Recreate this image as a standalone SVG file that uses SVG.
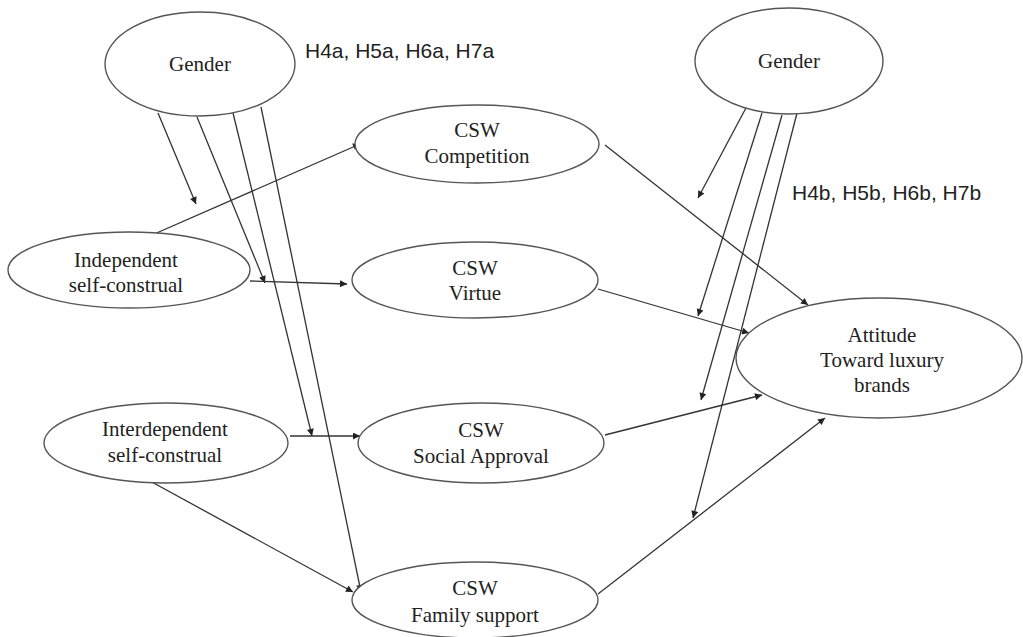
<svg xmlns="http://www.w3.org/2000/svg" width="1023" height="637" viewBox="0 0 1023 637">
<defs>
<style>
.node ellipse{fill:#fff;stroke:#555;stroke-width:1.4}
.node text{font-family:"Liberation Serif","Times New Roman",serif;font-size:21px;fill:#222;text-anchor:middle}
.lbl{font-family:"Liberation Sans",Arial,sans-serif;font-size:21px;fill:#222}
#connectors line{stroke:#333;stroke-width:1.3;fill:none;marker-end:url(#ah)}
</style>
<marker id="ah" viewBox="0 0 10 10" refX="10" refY="5" markerWidth="9" markerHeight="7" markerUnits="userSpaceOnUse" orient="auto">
<path d="M0,0 L10,5 L0,10 z" fill="#222"/>
</marker>
</defs>
<rect width="1023" height="637" fill="#fff"/>
<g id="connectors">
<line x1="158" y1="113" x2="196" y2="204"/>
<line x1="197" y1="117" x2="265" y2="283"/>
<line x1="233" y1="113" x2="312" y2="436"/>
<line x1="261" y1="107" x2="361" y2="592"/>
<line x1="152" y1="235" x2="360" y2="144"/>
<line x1="250" y1="281" x2="347" y2="284"/>
<line x1="290" y1="436" x2="360" y2="436"/>
<line x1="150" y1="481" x2="353" y2="592"/>
<line x1="605" y1="145" x2="808" y2="305"/>
<line x1="598" y1="289" x2="749" y2="333"/>
<line x1="605" y1="435" x2="762" y2="395"/>
<line x1="598" y1="594" x2="825" y2="418"/>
<line x1="747" y1="106" x2="698" y2="198"/>
<line x1="762" y1="113" x2="698" y2="316"/>
<line x1="782" y1="115" x2="701" y2="400"/>
<line x1="797" y1="113" x2="693" y2="518"/>
</g>
<g id="gender-a" class="node"><ellipse cx="200" cy="64" rx="95" ry="52"/><text x="200" y="71">Gender</text></g>
<g id="gender-b" class="node"><ellipse cx="789" cy="61" rx="94" ry="53"/><text x="789" y="68">Gender</text></g>
<g id="competition" class="node"><ellipse cx="477" cy="144" rx="122" ry="39"/><text x="477" y="137">CSW</text><text x="477" y="163">Competition</text></g>
<g id="independent" class="node"><ellipse cx="129" cy="270" rx="121" ry="38"/><text x="126" y="267">Independent</text><text x="126" y="292">self-construal</text></g>
<g id="virtue" class="node"><ellipse cx="475" cy="280" rx="123" ry="38"/><text x="475" y="275">CSW</text><text x="475" y="300">Virtue</text></g>
<g id="interdependent" class="node"><ellipse cx="166" cy="443" rx="122" ry="40"/><text x="165" y="436">Interdependent</text><text x="165" y="462">self-construal</text></g>
<g id="social" class="node"><ellipse cx="481" cy="443" rx="123" ry="40"/><text x="481" y="437">CSW</text><text x="481" y="463">Social Approval</text></g>
<g id="family" class="node"><ellipse cx="475" cy="600" rx="123" ry="38"/><text x="475" y="595">CSW</text><text x="475" y="622">Family support</text></g>
<g id="attitude" class="node"><ellipse cx="879" cy="358" rx="143" ry="60"/><text x="882" y="342">Attitude</text><text x="882" y="367">Toward luxury</text><text x="882" y="392">brands</text></g>
<g id="labels">
<text class="lbl" x="305" y="58">H4a, H5a, H6a, H7a</text>
<text class="lbl" x="792" y="200">H4b, H5b, H6b, H7b</text>
</g>
</svg>
